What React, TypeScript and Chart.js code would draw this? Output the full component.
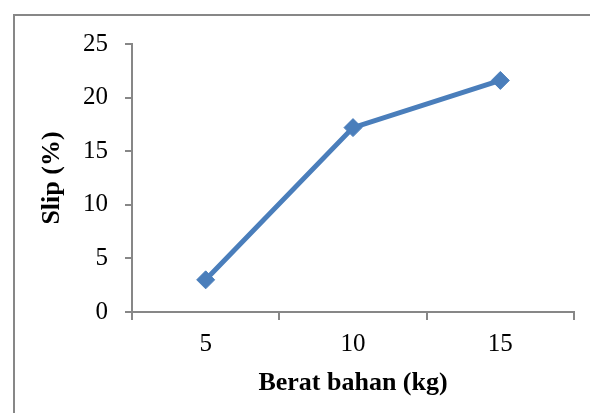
import React, { useEffect, useRef } from "react";
import { Chart, registerables } from "chart.js";

Chart.register(...registerables);

const categories = ["5", "10", "15"];
const slipValues = [3.0, 17.2, 21.6];
const yTicks = [0, 5, 10, 15, 20, 25];

const axisGray = "#878787";
const lineBlue = "#4a7ebb";
const serif = "'Liberation Serif', 'Times New Roman', serif";

export default function App() {
  const canvasRef = useRef<HTMLCanvasElement | null>(null);

  useEffect(() => {
    const canvas = canvasRef.current;
    if (!canvas) return;
    const chart = new Chart(canvas, {
      type: "line",
      data: {
        labels: categories,
        datasets: [
          {
            label: "Slip (%)",
            data: slipValues,
            borderColor: lineBlue,
            backgroundColor: lineBlue,
            borderWidth: 5,
            pointStyle: "rectRot",
            pointRadius: 9,
            pointBorderWidth: 1,
            pointBorderColor: lineBlue,
            pointBackgroundColor: lineBlue,
            tension: 0,
          },
        ],
      },
      options: {
        animation: false,
        responsive: false,
        maintainAspectRatio: false,
        layout: { padding: { top: 44, right: 16, left: 0, bottom: 0 } },
        plugins: {
          legend: { display: false },
          tooltip: { enabled: false },
        },
        scales: {
          x: {
            type: "category",
            offset: true,
            grid: {
              display: true,
              offset: true,
              drawOnChartArea: false,
              drawTicks: true,
              tickLength: 8,
              color: axisGray,
              lineWidth: 2,
            },
            border: { display: true, color: axisGray, width: 2 },
            ticks: {
              color: "#000",
              font: { family: serif, size: 25 },
              padding: 9,
            },
            title: {
              display: true,
              text: "Berat bahan (kg)",
              color: "#000",
              font: { family: serif, size: 26, weight: "bold" },
              padding: { top: 0, bottom: 14 },
            },
            afterFit: (scale: any) => {
              scale.height = 101;
            },
          },
          y: {
            min: 0,
            max: 25,
            afterBuildTicks: (scale: any) => {
              scale.ticks = yTicks.map((v) => ({ value: v }));
            },
            grid: {
              display: true,
              drawOnChartArea: false,
              drawTicks: true,
              tickLength: 7,
              color: axisGray,
              lineWidth: 2,
            },
            border: { display: true, color: axisGray, width: 2 },
            ticks: {
              color: "#000",
              font: { family: serif, size: 25 },
              padding: 17,
            },
            title: {
              display: true,
              text: "Slip (%)",
              color: "#000",
              font: { family: serif, size: 26, weight: "bold" },
              padding: { top: 37, bottom: 0 },
            },
            afterFit: (scale: any) => {
              scale.width = 132;
            },
          },
        },
      },
    });
    return () => chart.destroy();
  }, []);

  return (
    <div
      style={{
        position: "fixed",
        left: 0,
        top: 0,
        width: 590,
        height: 413,
        background: "#fff",
        overflow: "hidden",
      }}
    >
      <div
        style={{
          position: "absolute",
          left: 13,
          top: 14,
          width: 640,
          height: 460,
          borderLeft: `2px solid ${axisGray}`,
          borderTop: `2px solid ${axisGray}`,
        }}
      />
      <canvas
        ref={canvasRef}
        width={590}
        height={413}
        style={{ position: "absolute", left: 0, top: 0, width: 590, height: 413 }}
      />
    </div>
  );
}
